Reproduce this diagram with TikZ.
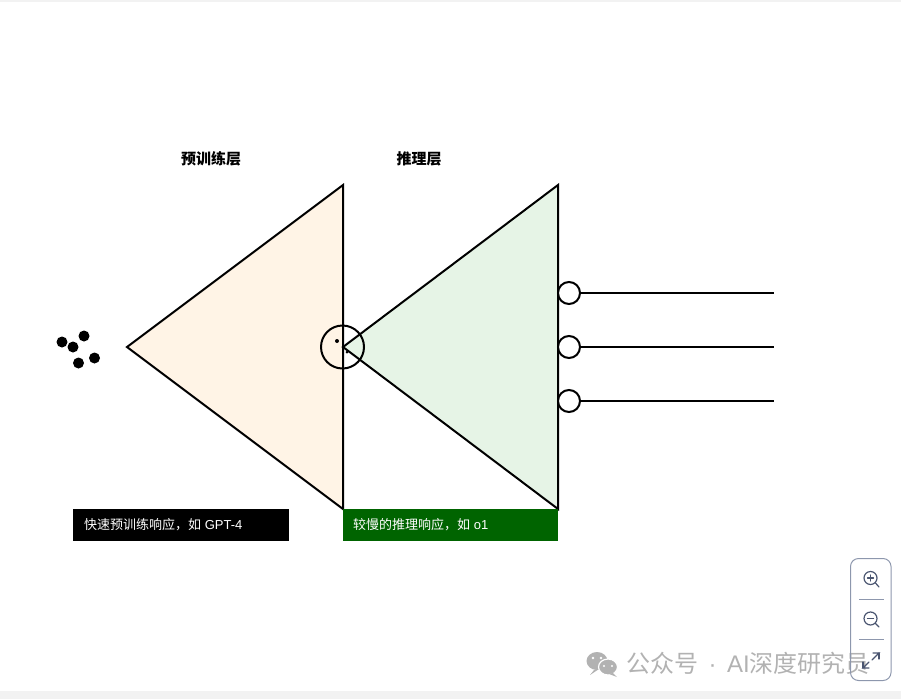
\documentclass[tikz,border=0pt]{standalone}
\usepackage{fontspec}
\setmainfont{Liberation Sans}
\newfontfamily\cjk{Noto Sans CJK SC}
\usetikzlibrary{calc}
\definecolor{pretrainfill}{HTML}{FFF4E6}
\definecolor{reasonfill}{HTML}{E6F4E6}
\definecolor{reasonbox}{HTML}{006400}
\definecolor{panelline}{HTML}{8D97AD}
\definecolor{panelicon}{HTML}{4A5570}
\definecolor{markgray}{HTML}{B2B2B2}
\definecolor{stripgray}{HTML}{F2F2F2}
\tikzset{
	layer/.style={draw=black, line width=2pt, line join=miter},
	seed/.style={circle, fill=black, inner sep=0pt, minimum size=11pt},
	port/.style={circle, draw=black, fill=white, line width=2pt, inner sep=0pt, minimum size=22pt},
	head/.style={anchor=base, font=\cjk\bfseries\fontsize{15}{17}\selectfont},
	tag/.style={anchor=base west, inner sep=0pt, text=white, font=\fontsize{13}{15}\selectfont},
	icon/.style={draw=panelicon, line width=1.2pt, line cap=round}
}
\begin{document}
\begin{tikzpicture}[x=1pt, y=-1pt]
		\useasboundingbox (0, 0) rectangle (901, 699);
		
		\fill[stripgray] (0, 0) rectangle (901, 2);
		\fill[stripgray] (0, 691) rectangle (901, 699);
		
		% seeds
		\node[seed] (s1) at (62, 342) {};
		\node[seed] (s2) at (73, 347) {};
		\node[seed] (s3) at (84, 336) {};
		\node[seed] (s4) at (94.5, 358) {};
		\node[seed] (s5) at (78.5, 363) {};
		
		% two layers
		\draw[layer, fill=pretrainfill] (127, 347) -- (343, 185) -- (343, 509) -- cycle;
		\draw[layer, fill=reasonfill] (343, 347) -- (558, 185) -- (558, 509) -- cycle;
		
		\node[head] (h1) at (211, 164.5) {预训练层};
		\node[head] (h2) at (419, 164.5) {推理层};
		
		\draw[line width=2pt] (342.5, 347) circle (21.5);
		\fill[black] (337, 341) circle (2);
		\fill[black] (347, 352) circle (1.5);
		
		% outputs
		\coordinate (e1) at (774, 293);
		\coordinate (e2) at (774, 347);
		\coordinate (e3) at (774, 401);
		\node[port] (o1) at (569, 293) {};
		\node[port] (o2) at (569, 347) {};
		\node[port] (o3) at (569, 401) {};
		\draw[line width=2pt] (o1) -- (e1);
		\draw[line width=2pt] (o2) -- (e2);
		\draw[line width=2pt] (o3) -- (e3);
		
		% tags
		\fill[black] (73, 509) rectangle (289, 541);
		\fill[reasonbox] (343, 509) rectangle (558, 541);
		\node[tag] (t1) at (84, 529.5) {{\cjk 快速预训练响应，如} GPT-4};
		\node[tag] (t2) at (353, 529.5) {{\cjk 较慢的推理响应，如} o1};
		
		% watermark
		\fill[markgray] (597, 661) ellipse (10.5 and 9);
		\fill[markgray] (594, 670) -- (590, 675) -- (599, 669) -- cycle;
		\draw[white, line width=1.2pt, fill=markgray] (608, 667) ellipse (9.5 and 8);
		\fill[markgray] (613, 673) -- (617, 677) -- (609, 674) -- cycle;
		\fill[white] (593, 658) circle (1.3) (601, 658) circle (1.3) (604, 666) circle (1.2) (612, 666) circle (1.2);
		\node[anchor=base west, inner sep=0pt, text=markgray, font=\fontsize{24}{26}\selectfont] (w1) at (626, 672) {{\cjk 公众号}\makebox[29pt]{·}AI{\cjk 深度研究员}};
		
		% zoom panel
		\draw[panelline, line width=1pt, rounded corners=8pt] (850.5, 558.5) rectangle (891, 680.5);
		\draw[panelline, line width=0.8pt] (859, 599.5) -- (884, 599.5);
		\draw[panelline, line width=0.8pt] (859, 639.5) -- (884, 639.5);
		\draw[icon] (870.5, 578) circle (6.5);
		\draw[icon] (875.3, 582.8) -- (879, 587);
		\draw[icon] (867.5, 578) -- (873.5, 578);
		\draw[icon] (870.5, 575) -- (870.5, 581);
		\draw[icon] (870.5, 618.5) circle (6.5);
		\draw[icon] (875.3, 623.3) -- (879, 627);
		\draw[icon] (867.5, 618.5) -- (873.5, 618.5);
		\draw[icon] (872, 660) -- (879, 653) -- (873, 653);
		\draw[icon] (879, 653) -- (879, 659);
		\draw[icon] (869, 662) -- (863, 668) -- (869, 668);
		\draw[icon] (863, 668) -- (863, 662);
	\end{tikzpicture}
\end{document}
